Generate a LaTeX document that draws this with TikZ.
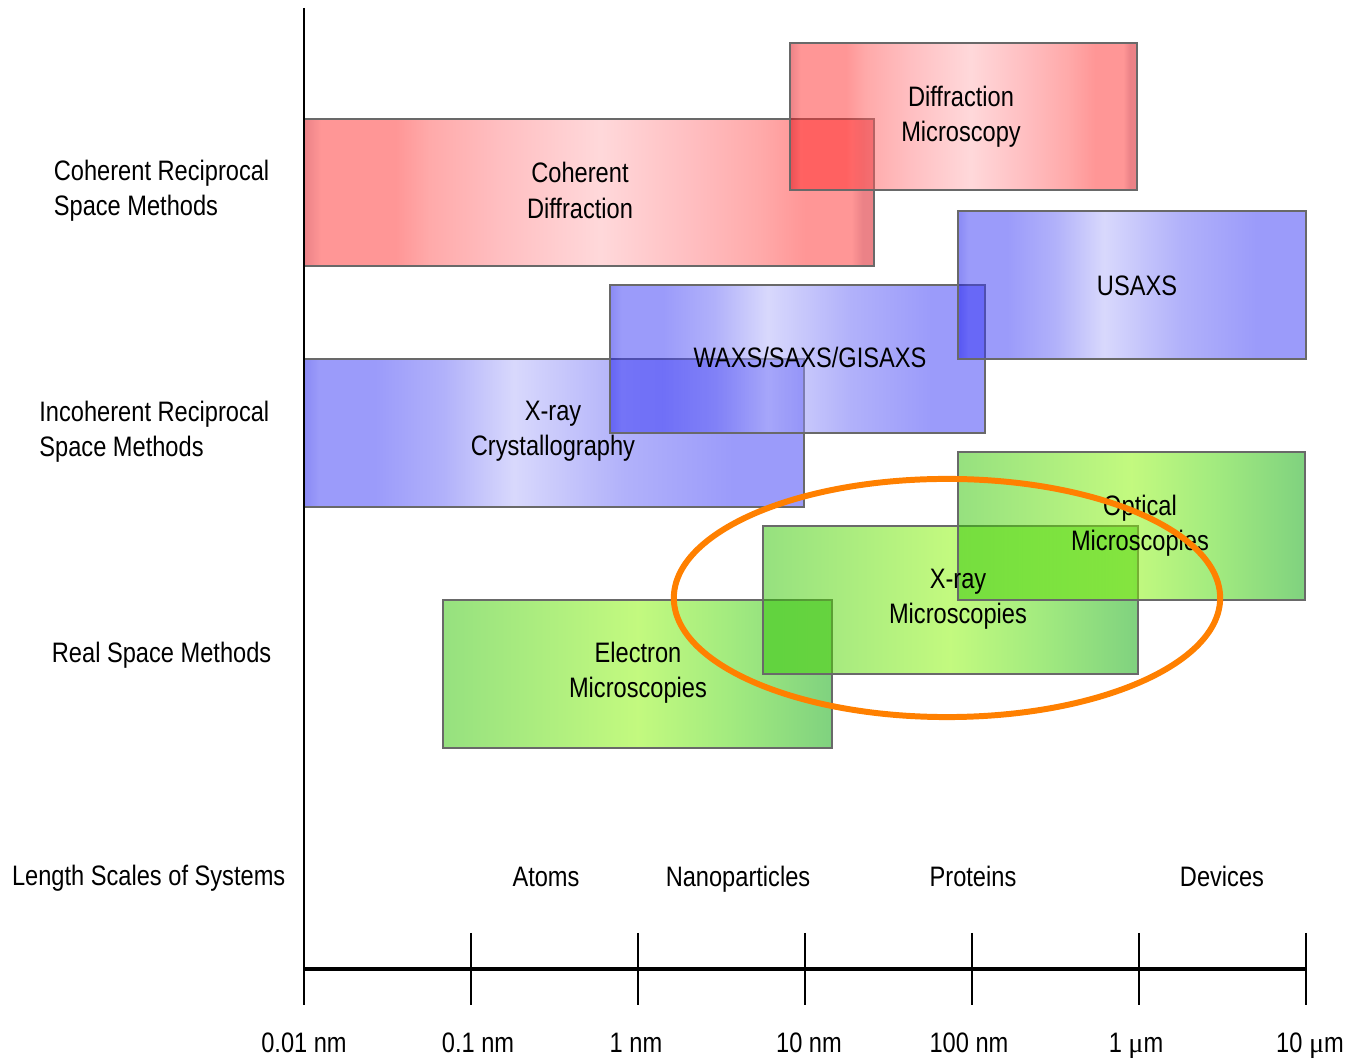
\documentclass[tikz,border=0pt]{standalone}
\usepackage{fontspec}
\setmainfont{Liberation Sans}[FakeStretch=0.84]
\newfontfamily\mufont{Liberation Serif}
\usepackage{xcolor}

% band colours, seen through fill opacity 0.5
\definecolor{redE}{RGB}{215,5,15}
\definecolor{redA}{RGB}{255,45,45}
\definecolor{redB}{RGB}{255,85,85}
\definecolor{redC}{RGB}{255,125,130}
\definecolor{redL}{RGB}{255,178,182}
\definecolor{blueE}{RGB}{20,20,235}
\definecolor{blueA}{RGB}{55,55,245}
\definecolor{blueB}{RGB}{100,100,245}
\definecolor{blueL}{RGB}{178,178,250}
\definecolor{greenA}{RGB}{45,195,0}
\definecolor{greenL}{RGB}{135,245,0}
\definecolor{greenM}{RGB}{70,215,0}
\definecolor{greenR}{RGB}{0,165,0}
\definecolor{boxline}{RGB}{105,105,105}
\definecolor{hiorange}{RGB}{255,128,0}

\pgfdeclarehorizontalshading{redband}{100bp}{color(0bp)=(redE); color(25bp)=(redE);
  color(26.5bp)=(redA); color(33bp)=(redA); color(36bp)=(redB); color(42bp)=(redC);
  color(51bp)=(redL); color(59bp)=(redC); color(65bp)=(redB); color(69bp)=(redA);
  color(73bp)=(redA); color(74bp)=(redE); color(100bp)=(redE)}
\pgfdeclarehorizontalshading{blueband}{100bp}{color(0bp)=(blueE); color(25bp)=(blueE);
  color(26.5bp)=(blueA); color(32bp)=(blueA); color(39bp)=(blueB); color(46bp)=(blueL);
  color(57bp)=(blueB); color(68bp)=(blueA); color(75bp)=(blueA); color(100bp)=(blueA)}
\pgfdeclarehorizontalshading{greenband}{100bp}{color(0bp)=(greenA); color(25bp)=(greenA);
  color(50bp)=(greenL); color(62bp)=(greenM); color(75bp)=(greenR); color(100bp)=(greenR)}

\tikzset{
  methbox/.style={draw=boxline, line width=0.7pt, fill opacity=0.5, inner sep=0pt},
  boxlab/.style={align=center, inner sep=0pt, font=\fontsize{8}{10}\selectfont},
  rowlab/.style={align=left, anchor=east, inner sep=0pt, font=\fontsize{8}{10}\selectfont},
  scalelab/.style={anchor=base, inner sep=0pt, font=\fontsize{8}{10}\selectfont},
  axisline/.style={line width=1.1pt},
  tickline/.style={line width=0.6pt},
  hilite/.style={draw=hiorange, line width=1.7pt}
}

\begin{document}
\begin{tikzpicture}[x=0.01cm, y=-0.01cm]
  \useasboundingbox (0,0) rectangle (1347,1064);

  % row titles
  \node[rowlab] (cohrow) at (270,191) {Coherent Reciprocal\\Space Methods};
  \node[rowlab] (incrow) at (270,432) {Incoherent Reciprocal\\Space Methods};
  \node[rowlab] (realrow) at (272,655) {Real Space Methods};
  \node[rowlab] (lenrow) at (286,878) {Length Scales of Systems};

  % method ranges
  \node[methbox, shading=redband, minimum width=5.70cm, minimum height=1.47cm] (cohdiff) at (589,192.5) {};
  \node[methbox, shading=redband, minimum width=3.47cm, minimum height=1.47cm] (diffmic) at (963.5,116.5) {};
  \node[methbox, shading=blueband, minimum width=5.00cm, minimum height=1.48cm] (xcryst) at (554,433) {};
  \node[methbox, shading=blueband, minimum width=3.75cm, minimum height=1.48cm] (waxs) at (797.5,359) {};
  \node[methbox, shading=blueband, minimum width=3.48cm, minimum height=1.48cm] (usaxs) at (1132,285) {};
  \node[methbox, shading=greenband, minimum width=3.89cm, minimum height=1.48cm] (elmic) at (637.5,674) {};
  \node[methbox, shading=greenband, minimum width=3.75cm, minimum height=1.48cm] (xmic) at (950.5,600) {};
  \node[methbox, shading=greenband, minimum width=3.47cm, minimum height=1.48cm] (optmic) at (1131.5,526) {};

  \node[boxlab] (cohdifflab) at (580,190.5) {Coherent\\Diffraction};
  \node[boxlab] (diffmiclab) at (961,116.5) {Diffraction\\Microscopy};
  \node[boxlab] (xcrystlab) at (553,431.5) {X-ray\\Crystallography};
  \node[boxlab] (waxslab) at (810,357.5) {WAXS/SAXS/GISAXS};
  \node[boxlab] (usaxslab) at (1137,285.5) {USAXS};
  \node[boxlab] (elmiclab) at (638,672.5) {Electron\\Microscopies};
  \node[boxlab] (xmiclab) at (958,599.5) {X-ray\\Microscopies};
  \node[boxlab] (optmiclab) at (1140,525.5) {Optical\\Microscopies};

  % systems along the scale
  \node[scalelab] (atoms) at (546,887) {Atoms};
  \node[scalelab] (nanop) at (738,887) {Nanoparticles};
  \node[scalelab] (prot) at (973,887) {Proteins};
  \node[scalelab] (devs) at (1222,887) {Devices};

  % axes
  \coordinate (top) at (304,8);
  \coordinate (origin) at (304,969);
  \coordinate (end) at (1306,969);
  \draw[line width=0.8pt] (top) -- (304,1005);
  \draw[axisline] (origin) -- (end);
  \foreach \x/\lx/\lab [count=\i] in {304/304/0.01 nm, 471/478/0.1 nm, 638/636/1 nm,
      805/809/10 nm, 972/969/100 nm, 1139/1136/1 {\mufont μ}m, 1306/1310/10 {\mufont μ}m} {
    \draw[tickline] (\x,933) -- (\x,1005);
    \node[scalelab] (tick\i) at (\lx,1053) {\lab};
  }

  % highlight
  \coordinate (hicenter) at (947,598);
  \draw[hilite] (hicenter) ellipse [x radius=2.73cm, y radius=1.19cm];
\end{tikzpicture}
\end{document}
